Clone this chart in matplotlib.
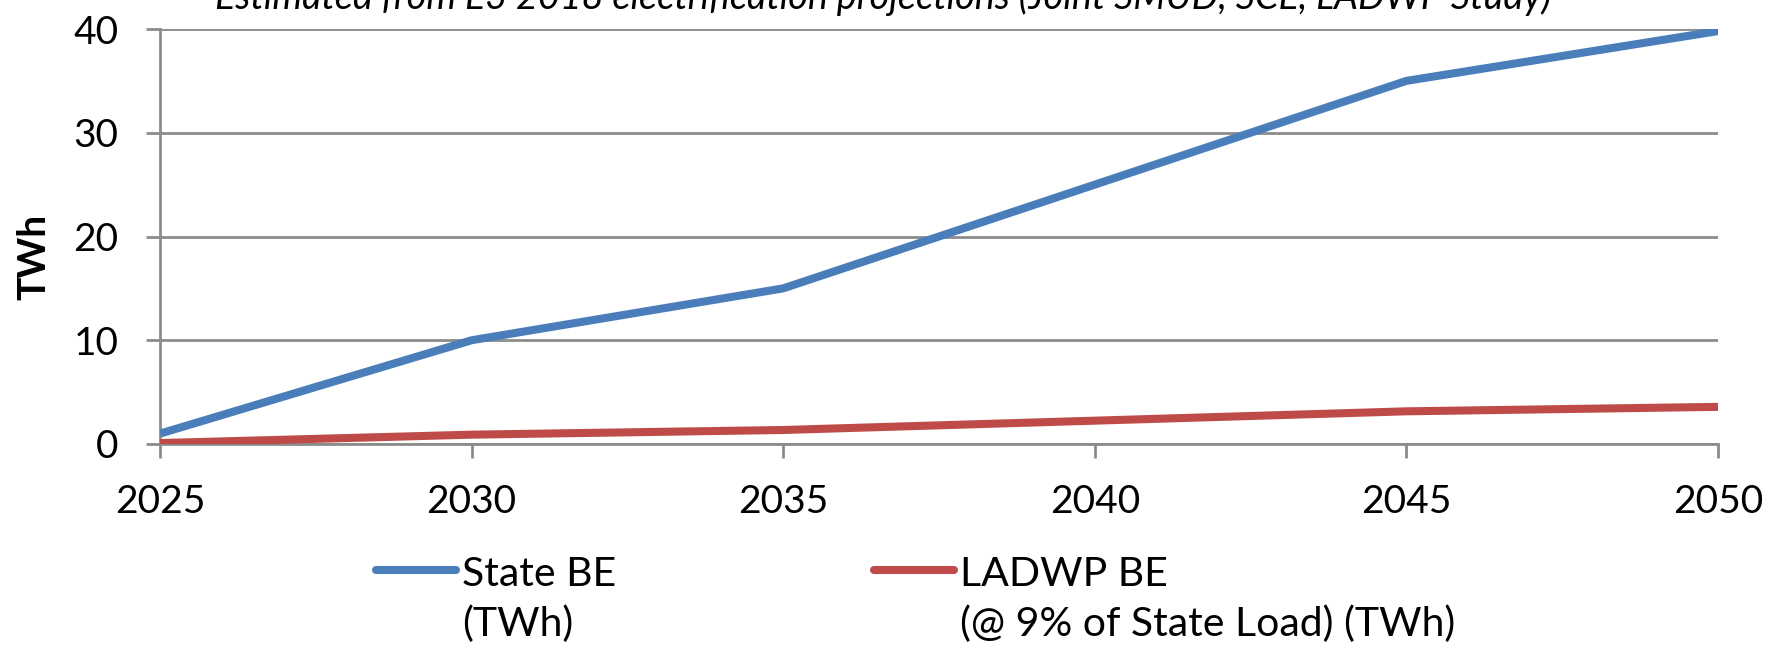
import matplotlib.pyplot as plt

years = [2025, 2030, 2035, 2040, 2045, 2050]
state_be = [1, 10, 15, 25, 35, 39.8]
ladwp_be = [0.09, 0.9, 1.35, 2.25, 3.15, 3.58]
labels = ["State BE\n(TWh)", "LADWP BE\n(@ 9% of State Load) (TWh)"]
title = "Estimated from E3 2018 electrification projections (Joint SMUD, SCE, LADWP Study)"

plt.rcParams['font.family'] = ['Lato', 'DejaVu Sans']
grey = "#8c8c8c"

fig = plt.figure(figsize=(17.67, 6.48), dpi=100)
ax = fig.add_axes([160 / 1767, 1 - 444 / 648, (1718 - 160) / 1767, (444 - 29) / 648])

ax.plot(years, state_be, color="#4a7ebb", lw=5.8, solid_capstyle="butt", label=labels[0], zorder=3)
ax.plot(years, ladwp_be, color="#be4b48", lw=5.8, solid_capstyle="butt", label=labels[1], zorder=3)

ax.set_xlim(2025, 2050)
ax.set_ylim(0, 40)
ax.set_xticks(years)
ax.set_yticks([0, 10, 20, 30, 40])
ax.grid(axis="y", color=grey, lw=2)
ax.set_axisbelow(True)
for s in ["top", "right"]:
    ax.spines[s].set_visible(False)
for s in ["left", "bottom"]:
    ax.spines[s].set_color(grey)
    ax.spines[s].set_linewidth(2)
ax.tick_params(axis="both", colors=grey, width=2, length=10, labelsize=28, labelcolor="black")
ax.tick_params(axis="x", pad=19)
ax.tick_params(axis="y", pad=20)

ax.set_ylabel("TWh", fontsize=28, fontweight="bold")
ax.yaxis.set_label_coords(-0.070, 0.45)

# title sits partly above the top edge, as in the source image
fig.text(0.5, 1 - 9 / 648, title, ha="center", va="baseline",
         fontsize=27.2, style="italic")

leg = fig.legend(loc="upper left", bbox_to_anchor=(376 / 1767, 1 - 556 / 648), ncol=2,
                 frameon=False, fontsize=29.5, handlelength=1.95, handletextpad=0.15,
                 columnspacing=6.3, borderpad=0, borderaxespad=0)
for col in leg._legend_handle_box.get_children():
    for item in col.get_children():
        item.align = "top"
for t in leg.get_texts():
    t.set_linespacing(1.4)
for line in leg.get_lines():
    line.set_linewidth(5.8)
    line.set_solid_capstyle("round")

fig.savefig("out.png", dpi=100)
